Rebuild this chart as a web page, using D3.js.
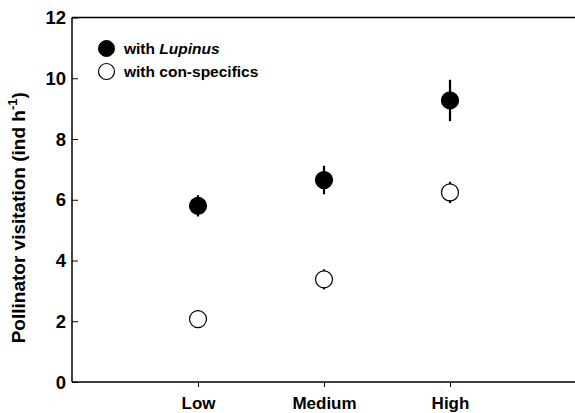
<!DOCTYPE html>
<html><head><meta charset="utf-8">
<script src="https://cdn.jsdelivr.net/npm/d3@7"></script>
<style>body{margin:0;background:#fff}svg{display:block}text{font-family:"Liberation Sans",Arial,sans-serif;font-weight:bold}</style>
</head><body>
<svg id="c" width="575" height="413"></svg>
<script>
const categories = ["Low", "Medium", "High"];
const lupinusMean = [5.80, 6.65, 9.27];
const lupinusErr  = [0.35, 0.47, 0.68];
const conMean     = [2.07, 3.38, 6.24];
const conErr      = [0.20, 0.33, 0.35];
const yTicks = [0, 2, 4, 6, 8, 10, 12];
const seriesNames = ["with ", "with con-specifics"];

const svg = d3.select("#c");
const L = 72, R = 576, T = 17.5, B = 382;
const x = d3.scaleLinear().domain([0, 4]).range([L, R]);
const y = d3.scaleLinear().domain([0, 12]).range([B, T]);

// y axis (ticks inward)
const yAxis = d3.axisRight(y).tickValues(yTicks).tickSize(6).tickFormat("");
const gy = svg.append("g").attr("transform", `translate(${L},0)`).call(yAxis);
gy.select(".domain").remove();
gy.selectAll("line").attr("stroke", "#000").attr("stroke-width", 1);
svg.selectAll(".ylab").data(yTicks).enter().append("text")
  .attr("x", L - 6).attr("y", d => y(d)).attr("dy", "0.36em")
  .attr("text-anchor", "end").attr("font-size", 18.5).text(d => d);

// x axis
const xAxis = d3.axisBottom(x).tickValues([1, 2, 3]).tickSize(5).tickFormat((d) => categories[d - 1]);
const gx = svg.append("g").attr("transform", `translate(0,${B})`).call(xAxis);
gx.select(".domain").remove();
gx.selectAll("line").attr("stroke", "#000");
gx.selectAll("text").attr("font-size", 17).attr("fill", "#000").attr("y", 27).attr("dy", 0)
  .style("font-family", '"Liberation Sans",Arial,sans-serif').style("font-weight", "bold");

// frame lines
svg.append("line").attr("x1", L).attr("x2", 575).attr("y1", B).attr("y2", B).attr("stroke", "#000").attr("stroke-width", 1.5);
svg.append("line").attr("x1", L).attr("x2", 575).attr("y1", T).attr("y2", T).attr("stroke", "#000").attr("stroke-width", 1.5);
svg.append("line").attr("x1", L).attr("x2", L).attr("y1", T).attr("y2", B).attr("stroke", "#000").attr("stroke-width", 1.5);

// y label
const yl = svg.append("text").attr("transform", `translate(25,${(T + B) / 2 + 18}) rotate(-90)`)
  .attr("text-anchor", "middle").attr("font-size", 19);
yl.append("tspan").text("Pollinator visitation (ind h");
yl.append("tspan").attr("font-size", 13).attr("dy", "-0.6em").text("-1");
yl.append("tspan").attr("dy", "0.42em").text(")");

// error bars and markers
function drawSeries(means, errs, fill) {
  const g = svg.append("g");
  means.forEach((m, i) => {
    g.append("line").attr("x1", x(i + 1)).attr("x2", x(i + 1))
      .attr("y1", y(m - errs[i])).attr("y2", y(m + errs[i]))
      .attr("stroke", "#000").attr("stroke-width", 2.2);
  });
  g.selectAll("circle").data(means).enter().append("circle")
    .attr("cx", (d, i) => x(i + 1)).attr("cy", d => y(d)).attr("r", 8.5)
    .attr("fill", fill).attr("stroke", "#000").attr("stroke-width", 1.2);
}
drawSeries(conMean, conErr, "#fff");
drawSeries(lupinusMean, lupinusErr, "#000");

// legend
const lg = svg.append("g");
lg.append("circle").attr("cx", 106.5).attr("cy", 48.5).attr("r", 8).attr("fill", "#000").attr("stroke", "#000");
lg.append("circle").attr("cx", 106.5).attr("cy", 71.5).attr("r", 8).attr("fill", "#fff").attr("stroke", "#000").attr("stroke-width", 1.2);
const t1 = lg.append("text").attr("x", 124).attr("y", 53.5).attr("font-size", 15.5);
t1.append("tspan").text(seriesNames[0]);
t1.append("tspan").attr("font-style", "italic").text("Lupinus");
lg.append("text").attr("x", 124).attr("y", 76.5).attr("font-size", 15.5).text(seriesNames[1]);
</script>
</body></html>
